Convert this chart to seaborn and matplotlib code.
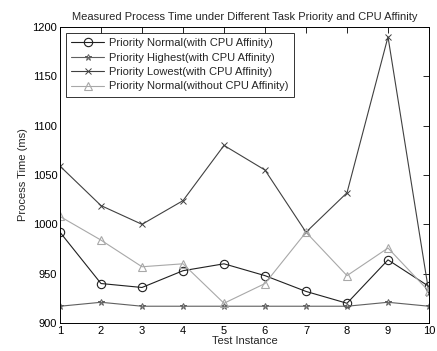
import matplotlib
matplotlib.use("Agg")
import matplotlib.pyplot as plt
import seaborn as sns
import pandas as pd

instances = [1, 2, 3, 4, 5, 6, 7, 8, 9, 10]
normal_aff = [992, 940, 936, 953, 960, 948, 932, 920, 964, 937]
highest_aff = [917, 921, 917, 917, 917, 917, 917, 917, 921, 917]
lowest_aff = [1059, 1019, 1000, 1024, 1080, 1055, 992, 1032, 1190, 930]
normal_noaff = [1008, 984, 957, 960, 920, 940, 992, 948, 976, 932]

labels = ["Priority Normal(with CPU Affinity)",
          "Priority Highest(with CPU Affinity)",
          "Priority Lowest(with CPU Affinity)",
          "Priority Normal(without CPU Affinity)"]
series = [normal_aff, highest_aff, lowest_aff, normal_noaff]

sns.set_style("white")
plt.rcParams['font.family'] = ['Liberation Sans', 'DejaVu Sans']

fig = plt.figure(figsize=(4.37, 3.51), dpi=100)
ax = fig.add_axes([60/437, 28/351, 369/437, 296/351])

styles = [
    dict(color="#202020", marker="o", markersize=6, mfc="none", mec="#202020", mew=0.8),
    dict(color="#606060", marker="*", markersize=5, mfc="none", mec="#606060", mew=0.7),
    dict(color="#404040", marker="x", markersize=4, mfc="none", mec="#404040", mew=0.7),
    dict(color="#a8a8a8", marker="^", markersize=6, mfc="none", mec="#a8a8a8", mew=0.8),
]

for lab, vals, st in zip(labels, series, styles):
    df = pd.DataFrame({"x": instances, "y": vals})
    sns.lineplot(data=df, x="x", y="y", ax=ax, label=lab, linewidth=0.8, **st)

ax.set_xlim(1, 10)
ax.set_ylim(900, 1200)
ax.set_xticks(instances)
ax.set_yticks([900, 950, 1000, 1050, 1100, 1150, 1200])
ax.tick_params(direction="in", top=True, right=True, length=4, width=0.6,
               labelsize=8, colors="black", pad=2)
for s in ax.spines.values():
    s.set_visible(True)
    s.set_color("black")
    s.set_linewidth(0.7)

ax.set_xlabel("Test Instance", fontsize=8, labelpad=0)
ax.set_ylabel("Process Time (ms)", fontsize=8, labelpad=3)
ax.set_title("Measured Process Time under Different Task Priority and CPU Affinity",
             fontsize=8, pad=5)

leg = ax.legend(loc="upper left", fontsize=8, frameon=True, fancybox=False,
                edgecolor="black", borderpad=0.5, labelspacing=0.4,
                handlelength=3.0, handletextpad=0.4, borderaxespad=0.5)
leg.get_frame().set_linewidth(0.7)

fig.savefig("out.png", dpi=100)
